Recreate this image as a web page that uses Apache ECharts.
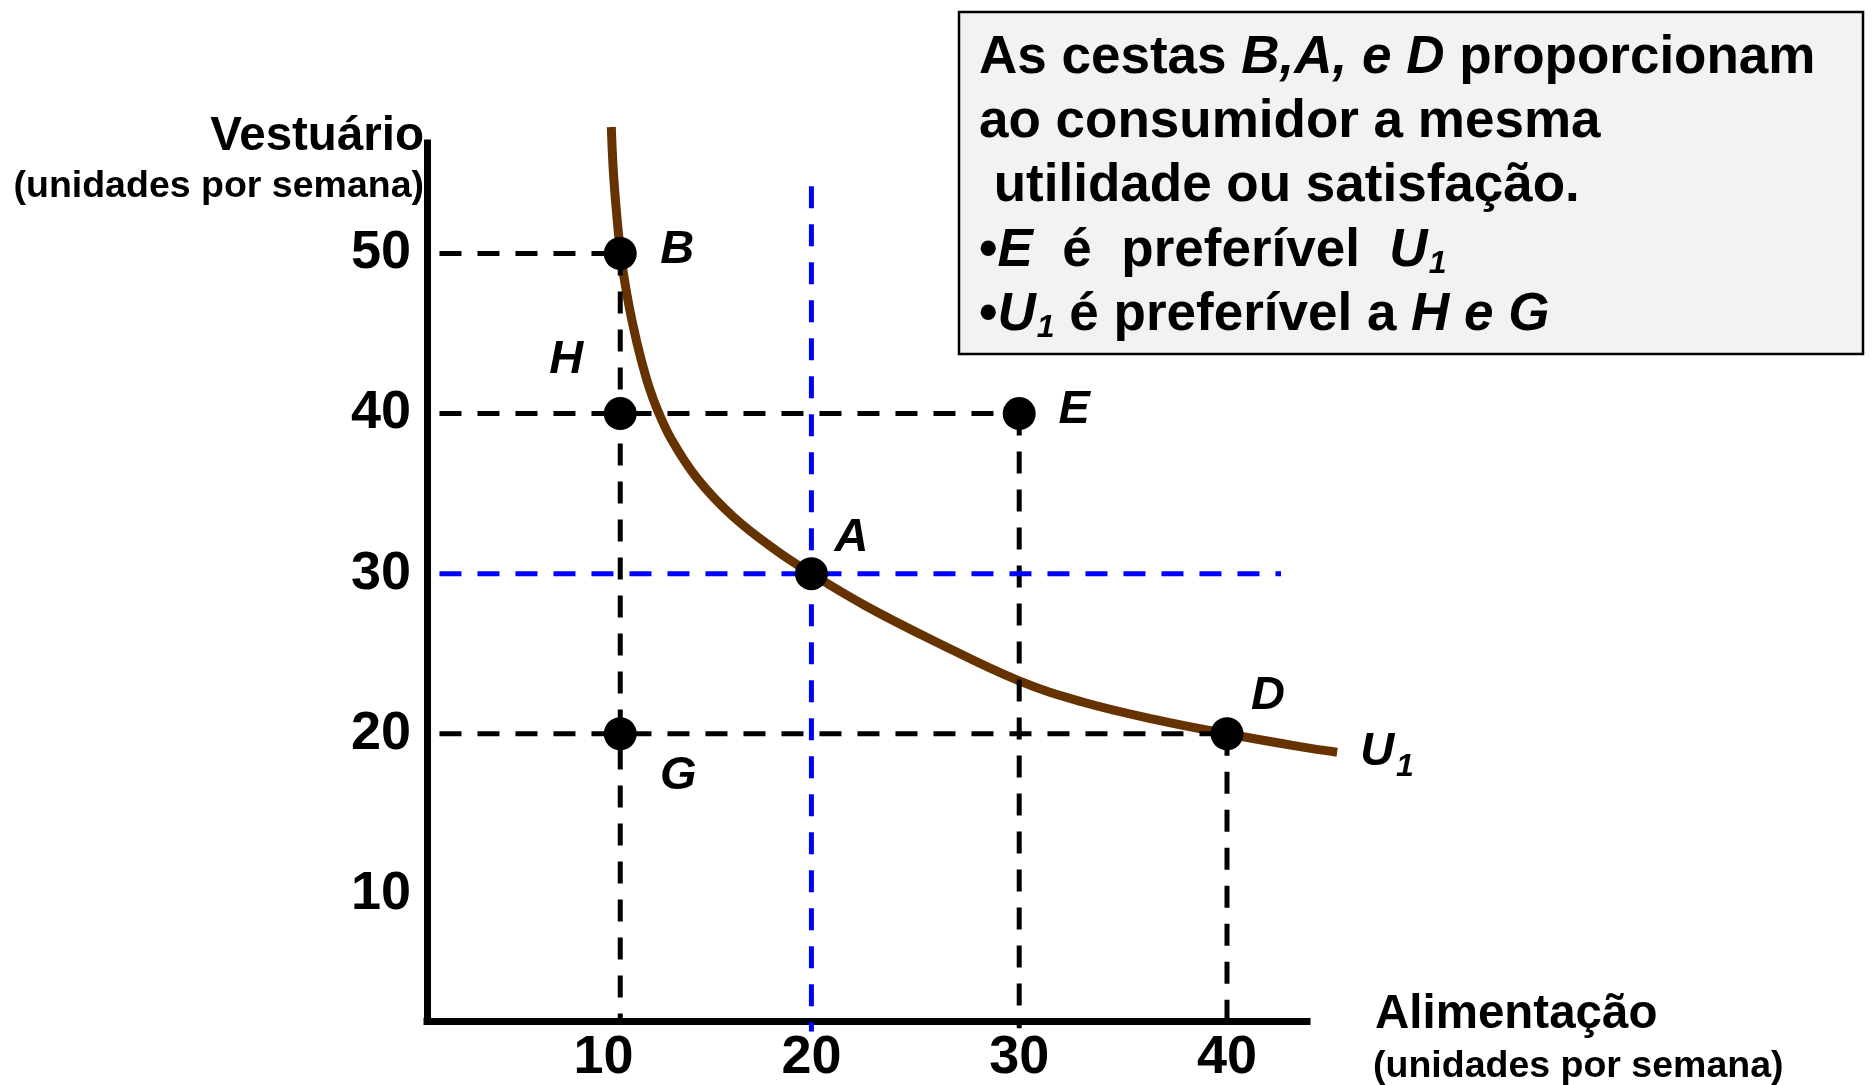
<!DOCTYPE html>
<html><head><meta charset="utf-8">
<script src="https://cdn.jsdelivr.net/npm/echarts@6/dist/echarts.min.js"></script>
<style>html,body{margin:0;padding:0;background:#fff}#c{width:1872px;height:1085px}</style>
</head><body><div id="c"></div>
<script>
// ---- data ----
const curveX = [10.37, 10.5, 10.8, 11.1, 11.45, 11.8, 12.2, 12.6, 13.3, 14.5, 16.2, 18.3, 20.0, 22.6, 25.9, 30.0, 33.0, 36.5, 40.0, 43.5, 45.3];
const curveY = [57.9, 54.5, 50.2, 47.6, 45.3, 43.4, 41.6, 40.2, 38.3, 35.95, 33.6, 31.45, 30.0, 28.0, 25.8, 23.3, 22.0, 20.9, 20.0, 19.2, 18.85];
const curveName = 'U';
const curveSub = '1';
const pointNames = ['B', 'H', 'E', 'A', 'G', 'D'];
const pointX = [10.8, 10.8, 30, 20, 10.8, 40];
const pointY = [50, 40, 40, 30, 20, 20];
const xTickLabels = [10, 20, 30, 40];
const yTickLabels = [10, 20, 30, 40, 50];
const xRange = [1.5, 43.85];
const yRange = [2.06, 56.9];
const blackGuides = [[2.1, 50, 10.8, 50], [10.8, 50, 10.8, 2.06], [2.1, 40, 30, 40], [30, 40, 30, 1.6], [2.1, 20, 40, 20], [40, 20, 40, 1.6]];
const blueGuides = [[20, 54.2, 20, 1.4], [2.1, 30, 42.6, 30]];

// ---- styles ----
const FONT = "'Liberation Sans', Arial, sans-serif";
const labelOffset = { B: [57, -3], H: [-54, -54], E: [55, -4], A: [40, -36], G: [58, 42], D: [41, -38] };

const chart = echarts.init(document.getElementById('c'), null, { renderer: 'canvas' });

function guideSeries(segs, color) {
  return segs.map(s => ({
    type: 'line', data: [[s[0], s[1]], [s[2], s[3]]], symbol: 'none', clip: false, silent: true, z: 3,
    lineStyle: { color: color, width: 5, type: [22, 16] }
  }));
}

const boxText = [
  'As cestas {i|B,A, e D} proporcionam',
  'ao consumidor a mesma',
  ' utilidade ou satisfação.',
  '•{i|E}  é  preferível  {i|U}{s|1}',
  '•{i|U}{s|1} é preferível a {i|H e G}'
].join('\n');

const option = {
  animation: false,
  backgroundColor: '#fff',
  grid: { left: 427, right: 565, top: 143, bottom: 64, containLabel: false },
  xAxis: {
    type: 'value', min: xRange[0], max: xRange[1],
    axisLine: { show: true, lineStyle: { color: '#000', width: 7, cap: 'square' } },
    axisTick: { show: false }, splitLine: { show: false },
    axisLabel: { customValues: xTickLabels, margin: 10, color: '#000', fontSize: 54, fontWeight: 'bold', fontFamily: FONT }
  },
  yAxis: {
    type: 'value', min: yRange[0], max: yRange[1],
    axisLine: { show: true, lineStyle: { color: '#000', width: 7, cap: 'square' } },
    axisTick: { show: false }, splitLine: { show: false },
    axisLabel: { customValues: yTickLabels, margin: 16, color: '#000', fontSize: 54, fontWeight: 'bold', fontFamily: FONT, padding: [0, 0, 5, 0] }
  },
  series: [
    {
      type: 'custom', z: 2, silent: true, clip: false,
      data: [[curveX[0], curveY[0]]],
      renderItem: function (params, api) {
        const pts = curveX.map((x, i) => api.coord([x, curveY[i]]));
        const end = pts[pts.length - 1];
        return {
          type: 'group', children: [
            { type: 'polyline', shape: { points: pts, smooth: 0.4 }, style: { stroke: '#663300', lineWidth: 9, fill: null } },
            {
              type: 'text', x: end[0] + 23, y: end[1],
              style: {
                text: '{u|' + curveName + '}{s|' + curveSub + '}', align: 'left', verticalAlign: 'middle',
                rich: {
                  u: { fontSize: 47, fontWeight: 'bold', fontStyle: 'italic', fontFamily: FONT, fill: '#000' },
                  s: { fontSize: 32, lineHeight: 24, fontWeight: 'bold', fontStyle: 'italic', fontFamily: FONT, fill: '#000', padding: [30, 0, 0, 2] }
                }
              }
            }
          ]
        };
      }
    },
    ...guideSeries(blackGuides, '#000'),
    ...guideSeries(blueGuides, '#0000ff'),
    {
      type: 'scatter', z: 5, symbolSize: 33, silent: true,
      itemStyle: { color: '#000', opacity: 1 },
      data: pointX.map((x, i) => ({ value: [x, pointY[i]], name: pointNames[i], label: { offset: labelOffset[pointNames[i]] } })),
      label: { show: true, position: 'inside', formatter: '{b}', color: '#000', fontSize: 47, fontWeight: 'bold', fontStyle: 'italic', fontFamily: FONT }
    }
  ],
  graphic: [
    { type: 'text', x: 424, y: 137, style: { text: 'Vestuário', align: 'right', verticalAlign: 'middle', font: "bold 47.5px " + FONT, fill: '#000' } },
    { type: 'text', x: 424, y: 187, style: { text: '(unidades por semana)', align: 'right', verticalAlign: 'middle', font: "bold 37.5px " + FONT, fill: '#000' } },
    { type: 'text', x: 1375, y: 1015, style: { text: 'Alimentação', align: 'left', verticalAlign: 'middle', font: "bold 47.5px " + FONT, fill: '#000' } },
    { type: 'text', x: 1373, y: 1067, style: { text: '(unidades por semana)', align: 'left', verticalAlign: 'middle', font: "bold 37.5px " + FONT, fill: '#000' } },
    { type: 'rect', x: 959, y: 12, shape: { x: 0, y: 0, width: 904, height: 342 }, style: { fill: '#f2f2f2', stroke: '#000', lineWidth: 2.5 }, z: 10 },
    {
      type: 'text', x: 979, y: 26, z: 11,
      style: {
        text: boxText, fill: '#000', font: "bold 53px " + FONT, lineHeight: 64.3, align: 'left', verticalAlign: 'top',
        rich: {
          i: { fontSize: 53, fontWeight: 'bold', fontStyle: 'italic', fontFamily: FONT, lineHeight: 64.3, fill: '#000' },
          s: { fontSize: 32, fontWeight: 'bold', fontStyle: 'italic', fontFamily: FONT, lineHeight: 24, padding: [26, 0, 0, 1], fill: '#000' }
        }
      }
    }
  ]
};
chart.setOption(option);
</script>
</body></html>
